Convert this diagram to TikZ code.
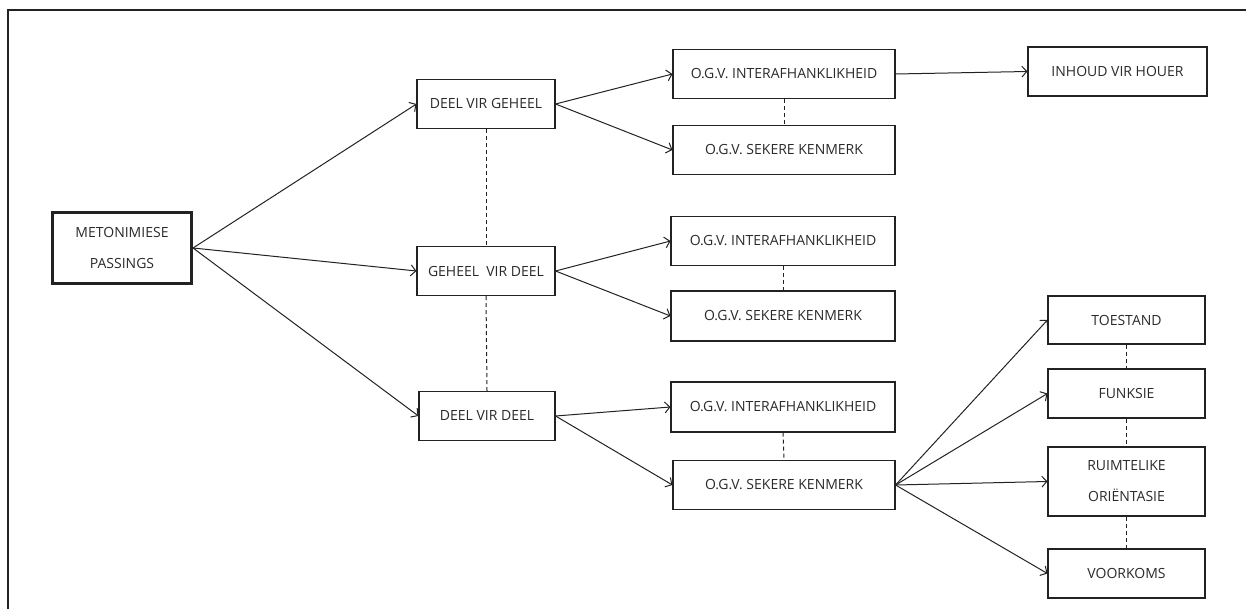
\documentclass[tikz,border=0pt]{standalone}
\usepackage{fontspec}
\setmainfont{Open Sans}
\usetikzlibrary{arrows.meta}
\definecolor{ink}{HTML}{222222}
\definecolor{txt}{HTML}{2A2A2A}
\begin{document}
\begin{tikzpicture}[x=1pt,y=-1pt,
  box/.style={draw=ink,line width=1.1pt,minimum width=#1,minimum height=49pt,inner sep=0pt,
    text=txt,align=center,font=\fontsize{14}{31}\selectfont},
  box/.default=138pt,
  rootbox/.style={box=139pt,line width=3pt,minimum height=71pt},
  link/.style={draw=ink,line width=1pt,-{Straight Barb[length=5pt,width=11pt,line width=1pt]}},
  peer/.style={draw=ink,line width=1pt,dash pattern=on 4pt off 3pt}]
\useasboundingbox (0,0) rectangle (1246,609);
% frame
\draw[line width=2pt,ink] (8,609) -- (8,10) -- (1246,10);

% root
\node[rootbox] (root) at (122,248) {METONIMIESE\\PASSINGS};

% second level
\node[box] (dvg) at (486,104) {DEEL VIR GEHEEL};
\node[box] (gvd) at (486,271) {GEHEEL\ \ VIR DEEL};
\node[box=136pt] (dvd) at (487,416) {DEEL VIR DEEL};

% third level
\node[box=222pt] (i1) at (784,74) {O.G.V. INTERAFHANKLIKHEID};
\node[box=222pt] (s1) at (784,150) {O.G.V. SEKERE KENMERK};
\node[box=224pt] (i2) at (783,241) {O.G.V. INTERAFHANKLIKHEID};
\node[box=224pt,minimum height=50pt] (s2) at (783,316) {O.G.V. SEKERE KENMERK};
\node[box=224pt,minimum height=50pt] (i3) at (783,407) {O.G.V. INTERAFHANKLIKHEID};
\node[box=222pt] (s3) at (784,485) {O.G.V. SEKERE KENMERK};

% fourth level
\node[box=179pt] (ivh) at (1117.5,71.5) {INHOUD VIR HOUER};
\node[box=157pt,minimum height=48pt] (toe) at (1126.5,320) {TOESTAND};
\node[box=157pt] (fun) at (1126.5,393.5) {FUNKSIE};
\node[box=157pt,minimum height=69pt] (rui) at (1126.5,481.5) {RUIMTELIKE\\ORIËNTASIE};
\node[box=157pt] (voo) at (1126.5,573.5) {VOORKOMS};

% arrows
\draw[link] (root.east) -- (dvg.west);
\draw[link] (root.east) -- (gvd.west);
\draw[link] (root.east) -- (dvd.west);
\draw[link] (dvg.east) -- (i1.west);
\draw[link] (dvg.east) -- (s1.west);
\draw[link] (gvd.east) -- (i2.west);
\draw[link] (gvd.east) -- (s2.west);
\draw[link] (dvd.east) -- (i3.west);
\draw[link] (dvd.east) -- (s3.west);
\draw[link] (i1.east) -- (ivh.west);
\draw[link] (s3.east) -- (toe.west);
\draw[link] (s3.east) -- (fun.west);
\draw[link] (s3.east) -- (rui.west);
\draw[link] (s3.east) -- (voo.west);

% dashed sibling links
\draw[peer] (dvg.south) -- (gvd.north);
\draw[peer] (gvd.south) -- (dvd.north);
\draw[peer] (i1.south) -- (s1.north);
\draw[peer] (i2.south) -- (s2.north);
\draw[peer] (i3.south) -- (s3.north);
\draw[peer] (toe.south) -- (fun.north);
\draw[peer] (fun.south) -- (rui.north);
\draw[peer] (rui.south) -- (voo.north);
\end{tikzpicture}
\end{document}
